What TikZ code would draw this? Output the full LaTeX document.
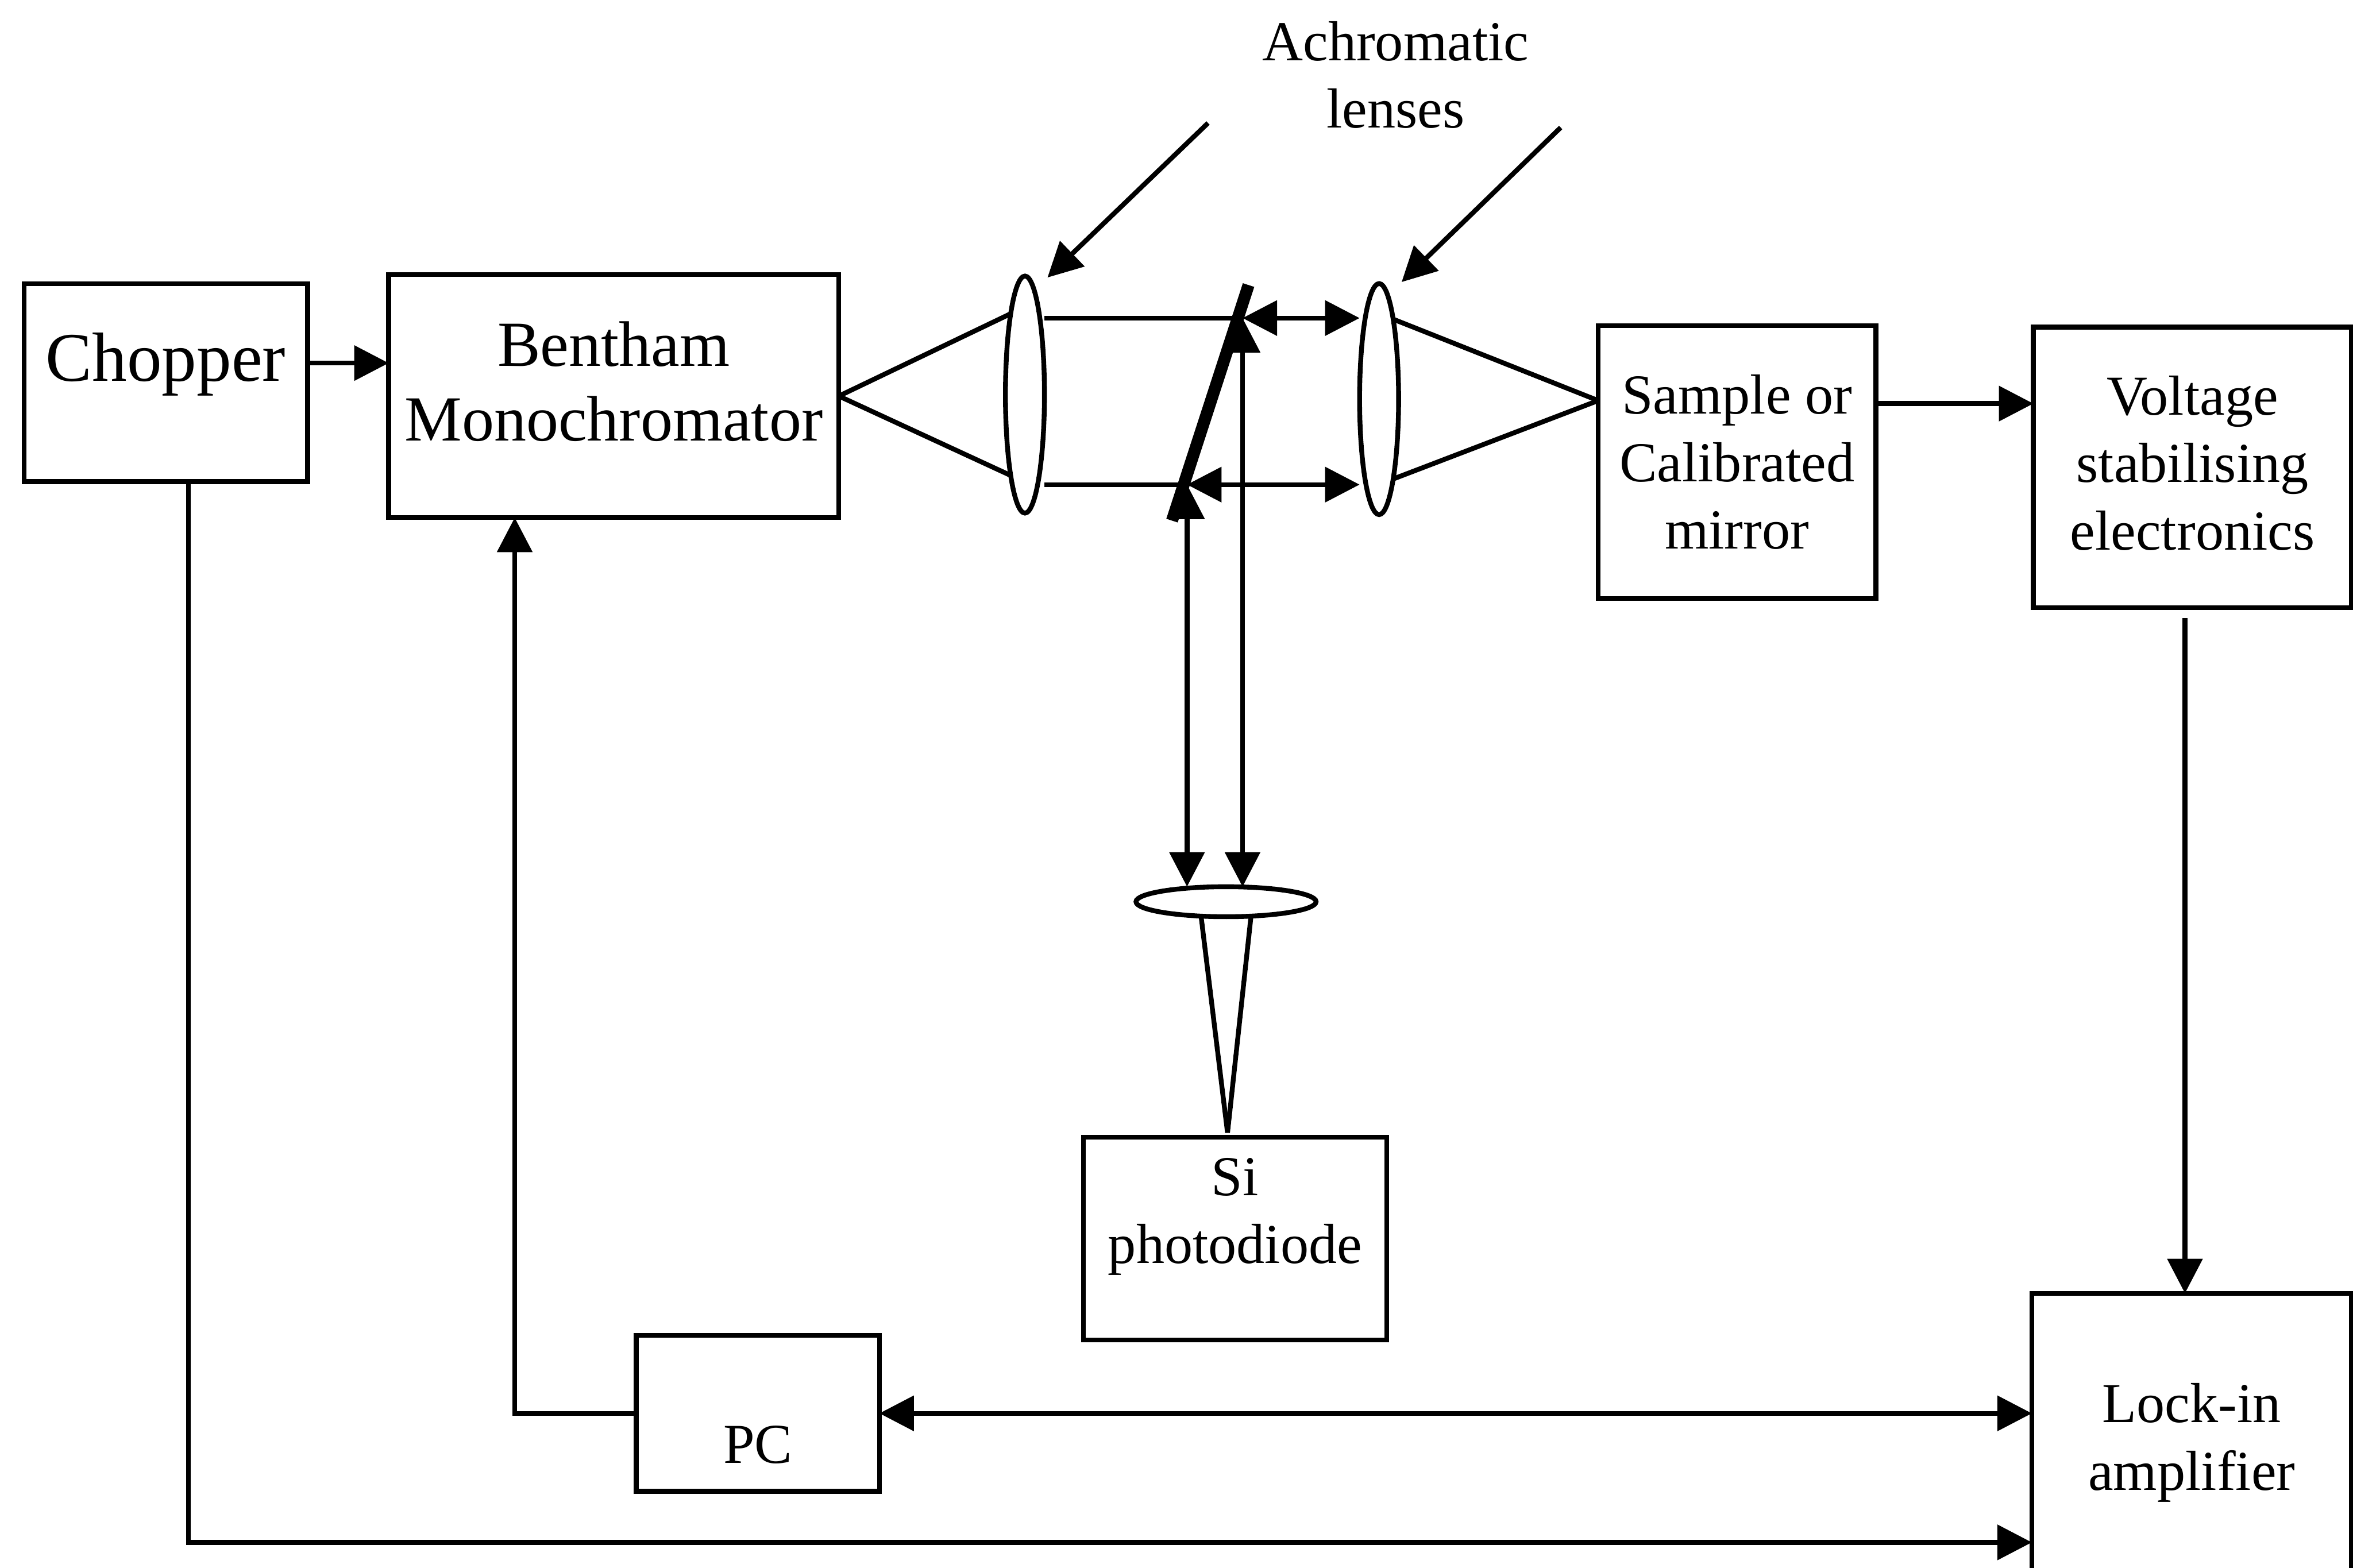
\documentclass[tikz,border=0pt]{standalone}
\usepackage{fontspec}
\usepackage{xcolor}
\setmainfont{Liberation Serif}
\usetikzlibrary{shapes,arrows.meta,positioning,calc}

\begin{document}
\begin{tikzpicture}[font=\fontsize{10.7}{12.8}\selectfont,line width=0.032cm,
    >={Triangle[length=0.23cm,width=0.23cm]},
    block/.style={draw,fill=white,align=center,inner sep=0pt,outer sep=0pt},
    lens/.style={draw,fill=white,ellipse,inner sep=0pt,outer sep=0pt}]
  \useasboundingbox (0,0) rectangle (15.68,10.45);

  % boxes
  \node[block,minimum width=1.89cm,minimum height=1.32cm,font=\fontsize{13.2}{15.6}\selectfont] (chopper) at (1.105,7.90) {Chopper\\[-0.21cm]\mbox{}};
  \node[block,minimum width=3.00cm,minimum height=1.62cm,font=\fontsize{12.2}{14.2}\selectfont] (bentham) at (4.09,7.81) {Bentham\\Monochromator\\[-0.30cm]\mbox{}};
  \node[block,minimum width=1.85cm,minimum height=1.82cm] (sample) at (11.575,7.37) {Sample or\\Calibrated\\mirror};
  \node[block,minimum width=2.12cm,minimum height=1.87cm] (voltage) at (14.61,7.335) {Voltage\\stabilising\\electronics\\[-0.39cm]\mbox{}};
  \node[block,minimum width=2.02cm,minimum height=1.35cm] (si) at (8.23,2.195) {Si\\photodiode\\[-0.08cm]\mbox{}};
  \node[block,minimum width=1.62cm,minimum height=1.04cm] (pc) at (5.05,1.03) {\mbox{}\\[0.22cm]PC};
  \node[block,minimum width=2.13cm,minimum height=1.99cm] (lockin) at (14.605,0.835) {Lock-in\\amplifier};
  \node[align=center] (achromatic) at (9.30,9.95) {Achromatic\\lenses};

  % optics
  \node[lens,minimum width=0.26cm,minimum height=1.58cm] (lensA) at (6.83,7.82) {};
  \node[lens,minimum width=0.26cm,minimum height=1.54cm] (lensB) at (9.19,7.79) {};
  \node[lens,minimum width=1.20cm,minimum height=0.20cm] (lensC) at (8.17,4.44) {};
  \coordinate (hitTop) at (8.28,8.33);
  \coordinate (hitLow) at (7.91,7.22);
  \coordinate (mirrorA) at (7.81,6.98);
  \coordinate (mirrorB) at (8.32,8.55);
  \coordinate (focusS) at ([yshift=0.41cm]sample.west);
  \coordinate (focusD) at ([xshift=-0.05cm,yshift=0.03cm]si.north);
  \coordinate (startA) at (8.05,9.63);
  \coordinate (tipA) at (6.98,8.60);
  \coordinate (startB) at (10.40,9.60);
  \coordinate (tipB) at (9.34,8.57);
  \coordinate (voltageOut) at ([xshift=-0.05cm,yshift=-0.07cm]voltage.south);

  \draw[line width=0.08cm] (mirrorA) -- (mirrorB);
  \foreach \a in {100,260}{
    \draw (bentham.east) -- (lensA.\a);
  }
  \foreach \a in {80,280}{
    \draw (focusS) -- (lensB.\a);
  }
  \foreach \a in {210,330}{
    \draw (lensC.\a) -- (focusD);
  }
  \draw (hitTop -| lensA.east) -- (hitTop);
  \draw (hitLow -| lensA.east) -- (hitLow);
  \draw[<->] (hitTop) -- (hitTop -| lensB.west);
  \draw[<->] (hitLow) -- (hitLow -| lensB.west);
  \draw[<->] (hitTop) -- (hitTop |- lensC.north);
  \draw[<->] (hitLow) -- (hitLow |- lensC.north);
  \draw[->] (startA) -- (tipA);
  \draw[->] (startB) -- (tipB);

  % signal paths
  \draw[->] ([yshift=0.13cm]chopper.east) -- ([yshift=0.13cm]chopper.east -| bentham.west);
  \draw[->] ([yshift=0.39cm]sample.east) -- ([yshift=0.39cm]sample.east -| voltage.west);
  \draw[->] (voltageOut) -- (voltageOut |- lockin.north);
  \draw[->] (pc.west) -| ([xshift=-0.66cm]bentham.south);
  \draw[<->] (pc.east) -- (pc.east -| lockin.west);
  \draw[->] ([xshift=0.15cm]chopper.south) |- ([yshift=-0.665cm]lockin.west);
\end{tikzpicture}
\end{document}
